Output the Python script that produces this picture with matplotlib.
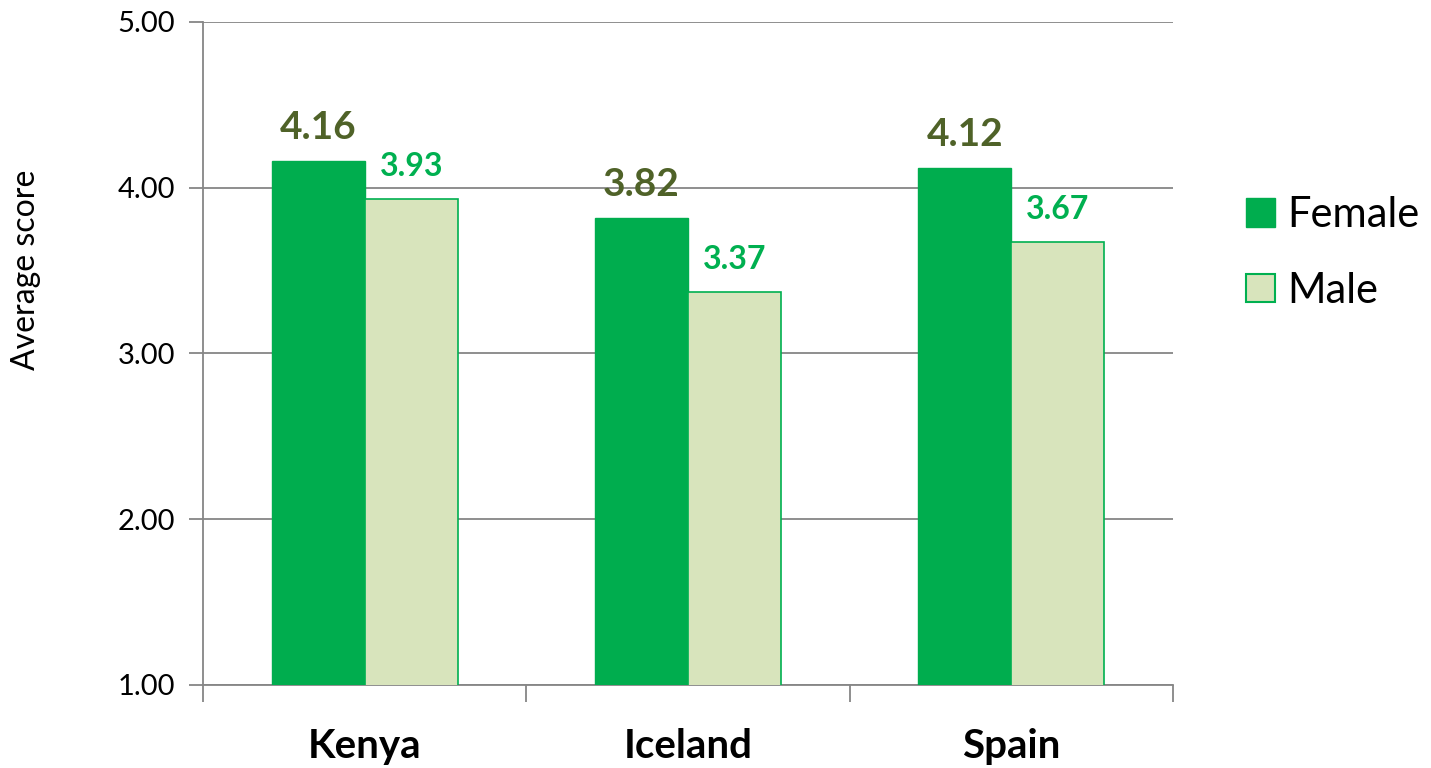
import numpy as np
import matplotlib
matplotlib.use('Agg')
import matplotlib.pyplot as plt
from matplotlib.patches import Patch

countries = ['Kenya', 'Iceland', 'Spain']
female = [4.16, 3.82, 4.12]
male = [3.93, 3.37, 3.67]

female_color = '#00AD4E'
male_fill = '#D8E4BC'
male_edge = '#00B050'
grid_color = '#868686'

plt.rcParams['font.family'] = ['Lato', 'DejaVu Sans']

fig = plt.figure(figsize=(14.31, 7.68), dpi=100)
ax = fig.add_axes([0.1419, 0.1081, 0.6778, 0.8633])

x = np.arange(len(countries))
w = 0.288
ax.bar(x - w / 2, female, w, color=female_color, edgecolor=female_color, linewidth=1, zorder=3)
ax.bar(x + w / 2, male, w, color=male_fill, edgecolor=male_edge, linewidth=1.2, zorder=3)

for xi, f, m in zip(x, female, male):
    ax.annotate(f'{f:.2f}', (xi - w / 2, f), xytext=(0, 24), textcoords='offset points',
                ha='center', va='center', fontsize=28, fontweight='bold', color='#4F6228')
    ax.annotate(f'{m:.2f}', (xi + w / 2, m), xytext=(0, 23.5), textcoords='offset points',
                ha='center', va='center', fontsize=23, fontweight='bold', color='#00B050')

ax.set_xlim(-0.5, 2.5)
ax.set_ylim(1, 5)
ax.set_yticks([1, 2, 3, 4, 5])
ax.set_yticklabels([f'{v:.2f}' for v in [1, 2, 3, 4, 5]])
ax.yaxis.grid(True, color=grid_color, linewidth=1.3, zorder=0)
ax.set_axisbelow(True)

# boundary ticks on x axis, category names as minor ticks
ax.set_xticks([-0.5, 0.5, 1.5, 2.5])
ax.set_xticklabels([])
ax.set_xticks(x, minor=True)
ax.set_xticklabels(countries, minor=True, fontsize=29, fontweight='bold')
ax.tick_params(axis='x', which='major', length=12, width=1.3, color=grid_color)
ax.tick_params(axis='x', which='minor', length=0, pad=31)
ax.tick_params(axis='y', length=10, width=1.3, color=grid_color, labelsize=21, pad=10)

for s in ['top', 'right']:
    ax.spines[s].set_visible(False)
for s in ['left', 'bottom']:
    ax.spines[s].set_color(grid_color)
    ax.spines[s].set_linewidth(1.3)

fig.text(26 / 1431, 1 - 270 / 768, 'Average score', rotation=90, fontsize=23,
         ha='center', va='center')

handles = [Patch(facecolor=female_color, edgecolor=female_color, label='Female'),
           Patch(facecolor=male_fill, edgecolor=male_edge, linewidth=1.5, label='Male')]
fig.legend(handles=handles, loc='center left', bbox_to_anchor=(1246 / 1431, 1 - 253 / 768),
           frameon=False, fontsize=30, handlelength=0.7, handleheight=0.68,
           handletextpad=0.28, labelspacing=0.9, borderpad=0, borderaxespad=0)

fig.savefig('out.png', dpi=100)
